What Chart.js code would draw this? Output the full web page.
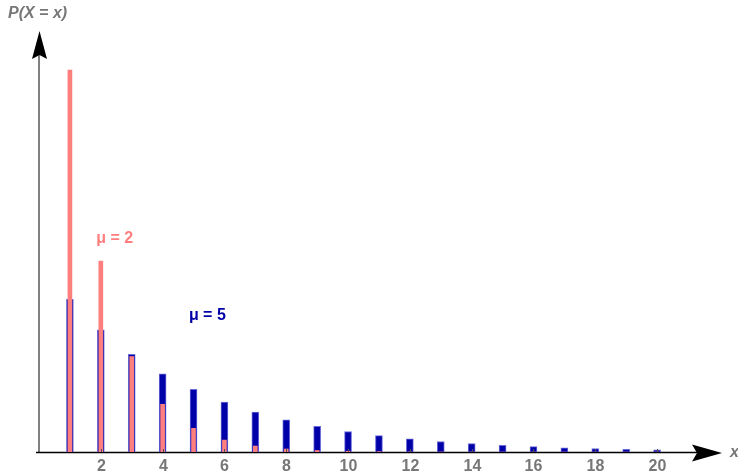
<!DOCTYPE html>
<html>
<head>
<meta charset="utf-8">
<script src="https://cdn.jsdelivr.net/npm/chart.js@4/dist/chart.umd.min.js"></script>
<style>
  html, body { margin: 0; padding: 0; background: #fff; }
  #wrap { width: 738px; height: 474px; }
</style>
</head>
<body>
<div id="wrap"><canvas id="chart"></canvas></div>
<script>
// valeurs
const xValues = [1, 2, 3, 4, 5, 6, 7, 8, 9, 10, 11, 12, 13, 14, 15, 16, 17, 18, 19, 20];
const probMu2 = [0.5, 0.25, 0.125, 0.0625, 0.031, 0.0156, 0.0078, 0.0039, 0.002, 0.001,
    0.0005, 0.0002, 0.0001, 0.0001, 0, 0, 0, 0, 0, 0];
const probMu5 = [0.2, 0.16, 0.128, 0.1024, 0.082, 0.0655, 0.0524, 0.042, 0.0336, 0.0268,
    0.0215, 0.0172, 0.0137, 0.011, 0.0088, 0.007, 0.0056, 0.0045, 0.0036, 0.0029];
const xTickLabels = [2, 4, 6, 8, 10, 12, 14, 16, 18, 20];
const seriesLabels = ['μ = 2', 'μ = 5'];

const pink = '#ff7f7f';
const blue = '#0000a8';
const grey = '#777777';
const fontFam = '"Liberation Sans", Arial, sans-serif';

const toPoints = arr => arr.map((y, i) => ({ x: xValues[i], y: y }));

// axes avec flèches + textes
const axesPlugin = {
    id: 'axes',
    beforeDatasetsDraw(chart) {
        const ctx = chart.ctx;
        const xs = chart.scales.x, ys = chart.scales.y;
        const x0 = xs.getPixelForValue(0), y0 = ys.getPixelForValue(0);
        const top = chart.chartArea.top, right = chart.chartArea.right;
        ctx.save();
        // axe vertical
        ctx.strokeStyle = '#808080';
        ctx.lineWidth = 2;
        ctx.beginPath();
        ctx.moveTo(x0, y0);
        ctx.lineTo(x0, top + 20);
        ctx.stroke();
        // axe horizontal
        ctx.strokeStyle = '#000';
        ctx.lineWidth = 1.5;
        ctx.beginPath();
        ctx.moveTo(x0 - 3, y0 + 0.5);
        ctx.lineTo(right - 20, y0 + 0.5);
        ctx.stroke();
        ctx.restore();
    },
    afterDatasetsDraw(chart) {
        const ctx = chart.ctx;
        const xs = chart.scales.x, ys = chart.scales.y;
        const x0 = xs.getPixelForValue(0), y0 = ys.getPixelForValue(0);
        const top = chart.chartArea.top, right = chart.chartArea.right;
        ctx.save();
        ctx.fillStyle = '#000';
        // flèche haut
        ctx.beginPath();
        ctx.moveTo(x0 + 0.5, top - 1);
        ctx.lineTo(x0 + 8, top + 27);
        ctx.lineTo(x0 + 0.5, top + 23);
        ctx.lineTo(x0 - 7, top + 27);
        ctx.closePath();
        ctx.fill();
        // flèche droite
        ctx.beginPath();
        ctx.moveTo(right, y0 + 1);
        ctx.lineTo(right - 30, y0 - 7.5);
        ctx.lineTo(right - 25, y0 + 1);
        ctx.lineTo(right - 30, y0 + 9.5);
        ctx.closePath();
        ctx.fill();

        // graduations + étiquettes de l'axe x
        ctx.strokeStyle = '#555';
        ctx.lineWidth = 1;
        ctx.fillStyle = grey;
        ctx.font = 'bold 16px ' + fontFam;
        ctx.textAlign = 'center';
        ctx.textBaseline = 'middle';
        xTickLabels.forEach(v => {
            const px = Math.round(xs.getPixelForValue(v)) + 0.5;
            ctx.beginPath();
            ctx.moveTo(px, y0 - 3);
            ctx.lineTo(px, y0);
            ctx.stroke();
            ctx.fillText(String(v), px, y0 + 15);
        });

        // titres des axes
        ctx.font = 'italic bold 16px ' + fontFam;
        ctx.textAlign = 'left';
        ctx.fillText('P(X = x)', 8, 14);
        ctx.fillText('x', right + 8, y0 + 1);

        // étiquettes des séries
        ctx.font = 'bold 16px ' + fontFam;
        ctx.fillStyle = pink;
        ctx.fillText(seriesLabels[0], xs.getPixelForValue(1.85), ys.getPixelForValue(0.279));
        ctx.fillStyle = blue;
        ctx.fillText(seriesLabels[1], xs.getPixelForValue(4.85), ys.getPixelForValue(0.178));
        ctx.restore();
    }
};

new Chart(document.getElementById('chart'), {
    type: 'bar',
    data: {
        datasets: [
            {
                label: seriesLabels[0],
                data: toPoints(probMu2),
                backgroundColor: pink,
                borderWidth: 0,
                barThickness: 4,
                grouped: false
            },
            {
                label: seriesLabels[1],
                data: toPoints(probMu5),
                backgroundColor: blue,
                borderColor: '#6a6ad8',
                borderWidth: 1,
                barThickness: 7,
                grouped: false
            }
        ]
    },
    options: {
        responsive: true,
        maintainAspectRatio: false,
        animation: false,
        layout: { padding: { left: 39, right: 16, top: 32, bottom: 22 } },
        plugins: {
            legend: { display: false },
            tooltip: { enabled: false }
        },
        scales: {
            x: {
                type: 'linear',
                display: false,
                min: 0,
                max: 22.1,
                offset: false
            },
            y: {
                display: false,
                min: 0,
                max: 0.55
            }
        }
    },
    plugins: [axesPlugin]
});
</script>
</body>
</html>
